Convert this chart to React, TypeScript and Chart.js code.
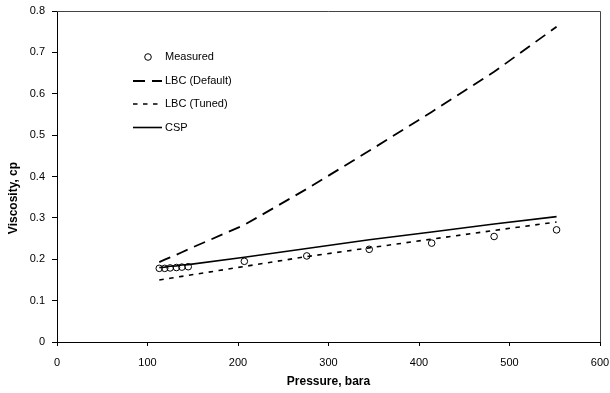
import React, { useEffect, useRef } from "react";
import { Chart, registerables } from "chart.js";

Chart.register(...registerables);

const pressure = [113, 119, 125, 132, 138, 145, 207, 276, 345, 414, 483, 552];
const measured = [0.178, 0.178, 0.179, 0.18, 0.181, 0.182, 0.195, 0.208, 0.224, 0.239, 0.255, 0.271];
const lbcDefault = [0.193, 0.199, 0.2045, 0.211, 0.217, 0.224, 0.283, 0.37, 0.462, 0.556, 0.653, 0.762];
const lbcTuned = [0.15, 0.152, 0.154, 0.1566, 0.1587, 0.161, 0.1826, 0.2065, 0.2275, 0.2486, 0.2696, 0.29];
const csp = [0.18, 0.181, 0.183, 0.184, 0.186, 0.187, 0.205, 0.226, 0.247, 0.266, 0.285, 0.303];

const xTitle = "Pressure, bara";
const yTitle = "Viscosity, cp";

const FONT = "'Liberation Sans', Arial, sans-serif";

const pts = (ys: number[]) => pressure.map((x, i) => ({ x, y: ys[i] }));

const decorPlugin = {
  id: "decor",
  afterDraw(chart: any) {
    const { ctx, chartArea } = chart;
    const { left, right, top, bottom } = chartArea;
    ctx.save();
    // frame (top & right)
    ctx.strokeStyle = "#444";
    ctx.lineWidth = 1;
    ctx.beginPath();
    ctx.moveTo(left, Math.round(top) + 0.5);
    ctx.lineTo(Math.round(right) + 0.5, Math.round(top) + 0.5);
    ctx.lineTo(Math.round(right) + 0.5, bottom);
    ctx.stroke();

    // axis titles
    ctx.fillStyle = "#000";
    ctx.font = `bold 12px ${FONT}`;
    ctx.textAlign = "center";
    ctx.textBaseline = "middle";
    ctx.fillText(xTitle, (left + right) / 2, 382);
    ctx.translate(14, 198);
    ctx.rotate(-Math.PI / 2);
    ctx.fillText(yTitle, 0, 0);
    ctx.restore();

    // legend
    ctx.save();
    ctx.font = `11px ${FONT}`;
    ctx.textAlign = "left";
    ctx.textBaseline = "middle";
    ctx.fillStyle = "#000";
    const rows = [57, 81, 104, 127.5];
    chart.data.datasets.forEach((ds: any, i: number) => {
      const y = rows[i];
      if (ds.showLine === false) {
        ctx.beginPath();
        ctx.lineWidth = 1;
        ctx.strokeStyle = "#000";
        ctx.arc(148, y, 3.3, 0, Math.PI * 2);
        ctx.stroke();
      } else {
        ctx.beginPath();
        ctx.lineWidth = ds.borderWidth;
        ctx.strokeStyle = ds.borderColor;
        ctx.setLineDash(ds.borderDash || []);
        ctx.moveTo(133, y);
        ctx.lineTo(162, y);
        ctx.stroke();
        ctx.setLineDash([]);
      }
      ctx.fillText(ds.label, 165, y);
    });
    ctx.restore();
  },
};

export default function App() {
  const ref = useRef<HTMLCanvasElement>(null);
  useEffect(() => {
    document.body.style.margin = "0";
    const chart = new Chart(ref.current as HTMLCanvasElement, {
      type: "scatter",
      data: {
        datasets: [
          {
            label: "Measured",
            data: pts(measured),
            showLine: false,
            pointRadius: 3.3,
            pointBorderWidth: 1,
            borderColor: "#000",
            backgroundColor: "rgba(0,0,0,0)",
            order: 0,
          },
          {
            label: "LBC (Default)",
            data: pts(lbcDefault),
            showLine: true,
            borderColor: "#000",
            borderWidth: 1.8,
            borderDash: [12, 7],
            pointRadius: 0,
            order: 1,
          },
          {
            label: "LBC (Tuned)",
            data: pts(lbcTuned),
            showLine: true,
            borderColor: "#000",
            borderWidth: 1.6,
            borderDash: [4.5, 5.5],
            pointRadius: 0,
            order: 2,
          },
          {
            label: "CSP",
            data: pts(csp),
            showLine: true,
            borderColor: "#000",
            borderWidth: 1.6,
            pointRadius: 0,
            order: 3,
          },
        ],
      } as any,
      options: {
        responsive: false,
        animation: false,
        layout: { padding: { top: 11, right: 10, left: 0, bottom: 0 } },
        plugins: { legend: { display: false }, tooltip: { enabled: false } },
        scales: {
          x: {
            type: "linear",
            min: 0,
            max: 600,
            ticks: { stepSize: 100, color: "#000", font: { family: FONT, size: 11 }, padding: 10 },
            grid: { display: true, drawOnChartArea: false, drawTicks: true, tickLength: 4, color: "#000" },
            border: { display: true, color: "#000", width: 1 },
            afterFit: (s: any) => {
              s.height = 51;
              s.paddingLeft = 0;
              s.paddingRight = 0;
            },
          },
          y: {
            type: "linear",
            min: 0,
            max: 0.8,
            ticks: {
              stepSize: 0.1,
              color: "#000",
              font: { family: FONT, size: 11 },
              padding: 7,
              callback: (v: any) => String(+Number(v).toFixed(1)),
            },
            grid: { display: true, drawOnChartArea: false, drawTicks: true, tickLength: 5, color: "#000" },
            border: { display: true, color: "#000", width: 1 },
            afterFit: (s: any) => {
              s.width = 57;
              s.paddingTop = 0;
              s.paddingBottom = 0;
            },
          },
        },
      } as any,
      plugins: [decorPlugin],
    });
    return () => chart.destroy();
  }, []);
  return (
    <div style={{ width: 610, height: 393, background: "#fff" }}>
      <canvas ref={ref} width={610} height={393} />
    </div>
  );
}
